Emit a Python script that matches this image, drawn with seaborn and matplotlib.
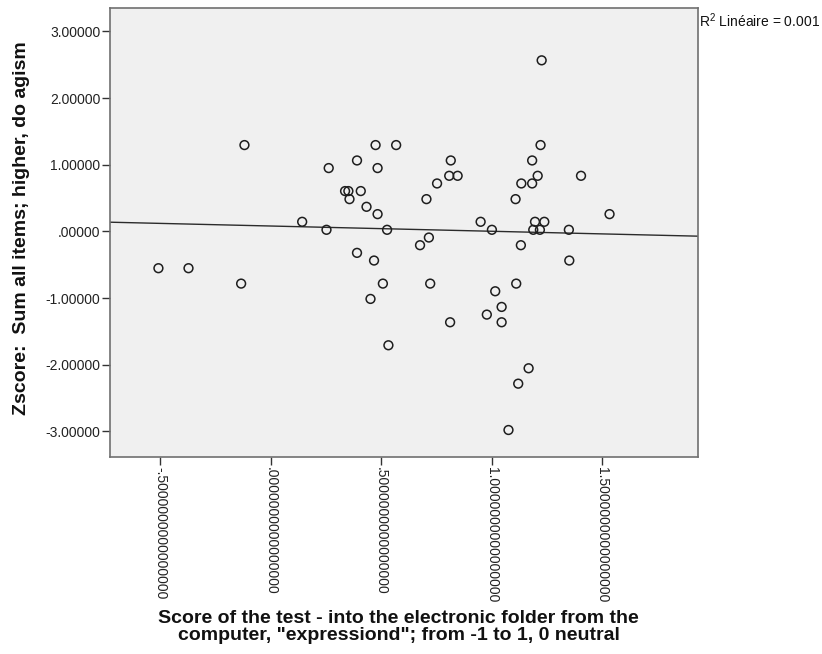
import numpy as np
import pandas as pd
import matplotlib
matplotlib.use("Agg")
import matplotlib.pyplot as plt
import seaborn as sns
from matplotlib.ticker import FuncFormatter, FixedLocator

# Test score (x) and agism z-score (y) for each respondent
x_score = [-0.507, -0.371, -0.133, -0.118, 0.143, 0.253, 0.263, 0.337, 0.352,
           0.357, 0.391, 0.391, 0.408, 0.434, 0.452, 0.468, 0.475, 0.484,
           0.484, 0.508, 0.527, 0.533, 0.568, 0.676, 0.705, 0.716, 0.722,
           0.753, 0.808, 0.812, 0.815, 0.846, 0.950, 0.978, 1.001, 1.016,
           1.045, 1.045, 1.076, 1.108, 1.111, 1.120, 1.132, 1.134, 1.167,
           1.183, 1.183, 1.188, 1.196, 1.208, 1.218, 1.221, 1.226, 1.238,
           1.349, 1.351, 1.404, 1.533]
z_agism = [-0.553, -0.553, -0.784, 1.294, 0.143, 0.023, 0.949, 0.604, 0.604,
           0.483, 1.063, -0.323, 0.604, 0.368, -1.014, -0.438, 1.294, 0.949,
           0.258, -0.784, 0.023, -1.709, 1.294, -0.208, 0.483, -0.093, -0.784,
           0.718, 0.833, -1.364, 1.063, 0.833, 0.143, -1.249, 0.023, -0.899,
           -1.134, -1.364, -2.980, 0.483, -0.784, -2.285, -0.208, 0.718, -2.054,
           0.718, 1.063, 0.023, 0.143, 0.833, 0.023, 1.294, 2.565, 0.143,
           0.023, -0.438, 0.833, 0.258]

x_ticks = [-0.5, 0.0, 0.5, 1.0, 1.5]
y_ticks = [-3.0, -2.0, -1.0, 0.0, 1.0, 2.0, 3.0]

x_title = ("Score of the test - into the electronic folder from the\n"
           "computer, \"expressiond\"; from -1 to 1, 0 neutral")
y_title = "Zscore:  Sum all items; higher, do agism"
fit_note = r"R$^2$ Linéaire = 0.001"

df = pd.DataFrame({"score": x_score, "zscore": z_agism})

sns.set_style("white")
plt.rcParams["font.family"] = ["Liberation Sans", "DejaVu Sans"]
plt.rcParams["mathtext.fontset"] = "custom"
plt.rcParams["mathtext.rm"] = "Liberation Sans"


def spss_fmt(decimals):
    """Fixed decimals without the leading zero, as SPSS prints them."""
    def _f(v, pos=None):
        s = f"{v:.{decimals}f}"
        if s.startswith("-0."):
            s = "-" + s[2:]
        elif s.startswith("0."):
            s = s[1:]
        return s
    return _f


W, H = 822, 654
fig = plt.figure(figsize=(W / 100, H / 100), dpi=100)
ax = fig.add_axes([110 / W, 1 - 457 / H, 588 / W, 449 / H])
ax.set_facecolor("#f0f0f0")

xlim = (-0.726, 1.933)
ylim = (-3.385, 3.35)
ax.set_xlim(*xlim)
ax.set_ylim(*ylim)

sns.regplot(data=df, x="score", y="zscore", ax=ax, scatter=False, ci=None,
            truncate=False, line_kws=dict(color="#2b2b2b", lw=1.0))
sns.scatterplot(data=df, x="score", y="zscore", ax=ax, s=40, marker="o",
                facecolor="none", edgecolor="#1e1e1e", linewidth=1.1,
                zorder=3)
ax.set_xlim(*xlim)
ax.set_ylim(*ylim)

ax.xaxis.set_major_locator(FixedLocator(x_ticks))
ax.yaxis.set_major_locator(FixedLocator(y_ticks))
ax.xaxis.set_major_formatter(FuncFormatter(spss_fmt(16)))
ax.yaxis.set_major_formatter(FuncFormatter(spss_fmt(5)))
ax.tick_params(axis="both", which="major", direction="out", length=5.5,
               width=1.0, color="#333333", labelsize=10, labelcolor="#222222",
               pad=1.5, left=True, bottom=True)
plt.setp(ax.get_xticklabels(), rotation=-90)

for side in ["left", "bottom", "top", "right"]:
    ax.spines[side].set_visible(True)
    ax.spines[side].set_color("#707070")
    ax.spines[side].set_linewidth(1.2)

ax.set_xlabel(x_title, fontsize=14, fontweight="bold", color="#111111",
              linespacing=0.98)
ax.xaxis.set_label_coords(0.491, -0.341)
ax.set_ylabel(y_title, fontsize=14, fontweight="bold", color="#111111")
ax.yaxis.set_label_coords(-0.136, 0.51)

fig.text(699 / W, 1 - 21 / H, fit_note, fontsize=10, color="#111111",
         ha="left", va="center")

fig.savefig("out.png", dpi=100, facecolor="white")
